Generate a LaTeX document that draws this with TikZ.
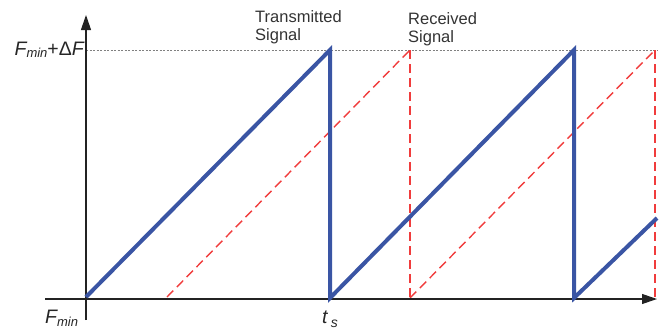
\documentclass[tikz,border=0pt]{standalone}
\usepackage{fontspec}
\setmainfont{Liberation Sans}
\usetikzlibrary{arrows.meta}
\definecolor{sigblue}{RGB}{58,85,164}
\definecolor{sigred}{RGB}{240,60,60}
\definecolor{axisgray}{RGB}{35,35,35}
\begin{document}
\begin{tikzpicture}[x=1pt,y=-1pt,
  axis/.style={draw=axisgray,line width=1.1pt},
  axisarrow/.style={axis,-{Triangle[length=15pt,width=10pt]}},
  txsig/.style={draw=sigblue,line width=4pt,line join=miter,line cap=butt},
  rxsig/.style={draw=sigred,line width=1.4pt,dash pattern=on 9pt off 5pt},
  refline/.style={draw=gray,line width=0.8pt,dash pattern=on 2pt off 1.5pt},
  lbl/.style={inner sep=0pt,font=\fontsize{16.5}{18.5}\selectfont,text=black!80,align=left},
  axlbl/.style={inner sep=0pt,font=\fontsize{19.5}{20}\selectfont,text=black!85}]
\useasboundingbox (0,0) rectangle (664,330);
% coordinates
\coordinate (xs) at (45,299);
\coordinate (xe) at (657,299);
\coordinate (ys) at (86,320);
\coordinate (ye) at (86,15);
\coordinate (topL) at (86,50);
\coordinate (topR) at (657,50);
\coordinate (b0) at (86,297);
\coordinate (b1) at (330,50);
\coordinate (b2) at (330,298);
\coordinate (b3) at (574,50);
\coordinate (b4) at (574,298);
\coordinate (b5) at (657,218);
\coordinate (r0) at (167,297);
\coordinate (r1) at (410,50);
\coordinate (r2) at (410,298);
\coordinate (r3) at (655,50);
\coordinate (r4) at (655,298);
% reference line
\draw[refline] (topL) -- (topR);
% received signal
\draw[rxsig] (r0) -- (r1);
\draw[rxsig] (r1) -- (r2);
\draw[rxsig] (r2) -- (r3);
\draw[rxsig] (r3) -- (r4);
% axes
\draw[axisarrow] (xs) -- (xe);
\draw[axisarrow] (ys) -- (ye);
% transmitted signal
\draw[txsig] (b0) -- (b1) -- (b2) -- (b3) -- (b4) -- (b5);
% labels
\node[lbl,anchor=north west] (tx) at (255,10) {Transmitted\\Signal};
\node[lbl,anchor=north west] (rx) at (408,12) {Received\\Signal};
\node[axlbl,anchor=base east] (fmax) at (84,55) {{\itshape F}\raisebox{-2pt}{\fontsize{13}{13}\selectfont\itshape min}+Δ{\itshape F}};
\node[axlbl,anchor=base west] (fmin) at (45,323) {{\itshape F}\raisebox{-3pt}{\fontsize{13}{13}\selectfont\itshape min}};
\node[axlbl,anchor=base west] (ts) at (322,323) {{\itshape t}\,\raisebox{-4pt}{\fontsize{14}{14}\selectfont\itshape s}};
\end{tikzpicture}
\end{document}
